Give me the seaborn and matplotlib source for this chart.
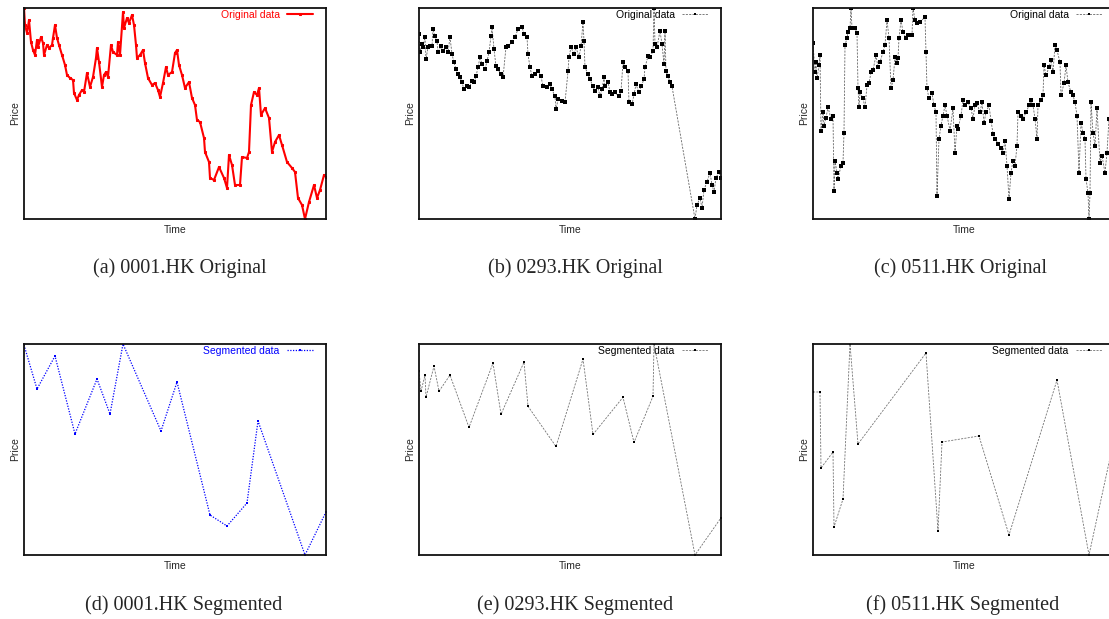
import matplotlib
matplotlib.use("Agg")
import matplotlib.pyplot as plt
import seaborn as sns

# prices (no ticks in the source, so arbitrary units)
# time = trading-step index, price = level above the panel minimum

# (a) 0001.HK original
a_time = [0, 1, 3, 4, 5, 7, 9, 11, 13, 14,
          17, 19, 20, 23, 25, 28, 29, 31, 33, 35,
          38, 41, 43, 46, 49, 50, 53, 55, 58, 60,
          63, 66, 69, 72, 73, 75, 78, 80, 82, 84,
          87, 89, 93, 94, 96, 99, 100, 103, 105, 108,
          110, 112, 113, 116, 119, 121, 124, 128, 131, 134,
          136, 139, 142, 144, 148, 151, 153, 155, 158, 161,
          165, 168, 171, 173, 176, 180, 181, 185, 186, 190,
          195, 200, 203, 205, 208, 211, 216, 218, 223, 225,
          227, 230, 233, 235, 237, 241, 245, 248, 251, 255,
          258, 263, 268, 271, 274, 278, 281, 285, 290, 293,
          296, 300, 302]
a_price = [211, 194, 186, 192, 199, 177, 169, 164, 179, 172,
           182, 176, 164, 174, 171, 174, 181, 194, 181, 174,
           164, 154, 144, 141, 139, 126, 119, 124, 129, 127,
           146, 132, 142, 161, 171, 157, 132, 144, 147, 142,
           174, 167, 164, 177, 164, 207, 191, 201, 196, 204,
           194, 174, 161, 164, 169, 156, 141, 134, 136, 129,
           122, 136, 152, 144, 147, 166, 169, 154, 144, 131,
           137, 121, 114, 99, 97, 81, 67, 57, 41, 39,
           52, 41, 31, 64, 54, 34, 34, 62, 61, 67,
           114, 127, 124, 131, 104, 111, 101, 67, 77, 84,
           74, 57, 51, 47, 21, 14, 0, 17, 34, 21,
           29, 44, 42]

# (b) 0293.HK original
b_time = [0, 1, 3, 4, 6, 7, 9, 11, 13, 14,
          16, 18, 19, 22, 24, 27, 29, 31, 33, 35,
          37, 39, 41, 43, 45, 48, 50, 53, 55, 57,
          59, 61, 63, 66, 68, 70, 72, 73, 75, 77,
          79, 82, 84, 87, 89, 93, 96, 99, 103, 105,
          108, 109, 111, 113, 116, 119, 122, 124, 128, 131,
          133, 136, 137, 139, 143, 146, 149, 150, 152, 155,
          157, 160, 162, 164, 165, 166, 169, 171, 174, 176,
          179, 181, 183, 185, 186, 189, 191, 193, 196, 200,
          202, 204, 206, 209, 210, 213, 215, 217, 220, 222,
          225, 226, 229, 231, 234, 235, 236, 238, 241, 243,
          245, 246, 247, 249, 251, 253, 276, 278, 281, 283,
          285, 288, 291, 293, 295, 297, 300, 302]
b_price = [184, 166, 174, 171, 181, 159, 171, 172, 172, 189,
           182, 177, 166, 172, 167, 171, 166, 181, 164, 156,
           149, 144, 141, 136, 129, 132, 131, 137, 136, 142,
           151, 161, 154, 149, 157, 166, 182, 191, 169, 152,
           149, 144, 141, 171, 172, 176, 181, 189, 191, 184,
           181, 164, 151, 142, 144, 147, 142, 132, 131, 134,
           129, 122, 109, 119, 117, 116, 147, 161, 171, 164,
           171, 161, 172, 196, 177, 151, 144, 139, 132, 127,
           131, 122, 129, 141, 132, 136, 126, 124, 126, 122,
           127, 156, 151, 147, 116, 114, 124, 134, 126, 132,
           139, 151, 162, 161, 167, 210, 174, 171, 187, 174,
           154, 187, 147, 142, 136, 132, 0, 14, 21, 11,
           29, 37, 46, 34, 27, 41, 47, 41]

# (c) 0511.HK original
c_time = [0, 2, 3, 4, 6, 7, 8, 10, 11, 13,
          15, 18, 20, 21, 22, 24, 25, 28, 30, 31,
          32, 34, 35, 37, 38, 39, 42, 44, 45, 46,
          47, 50, 52, 54, 56, 58, 60, 63, 65, 67,
          70, 72, 74, 76, 78, 80, 82, 84, 85, 86,
          88, 90, 93, 95, 99, 100, 102, 104, 107, 112,
          113, 114, 116, 119, 121, 123, 124, 126, 128, 130,
          132, 134, 137, 140, 142, 144, 145, 148, 150, 152,
          155, 158, 160, 162, 164, 167, 169, 171, 173, 176,
          178, 180, 182, 185, 188, 190, 192, 194, 196, 198,
          200, 202, 204, 205, 208, 210, 213, 216, 218, 220,
          222, 224, 225, 228, 230, 231, 233, 236, 238, 240,
          242, 244, 247, 248, 251, 253, 255, 258, 260, 262,
          264, 266, 268, 270, 272, 273, 275, 276, 277, 278,
          280, 282, 284, 287, 289, 292, 294, 296, 300, 302]
c_price = [175, 146, 156, 140, 153, 163, 88, 106, 93, 101,
           111, 100, 103, 28, 58, 46, 40, 53, 56, 86,
           173, 180, 186, 190, 210, 190, 190, 185, 130, 111,
           126, 120, 111, 133, 135, 146, 148, 163, 151, 156,
           166, 173, 198, 180, 130, 138, 161, 155, 160, 180,
           198, 186, 180, 183, 183, 210, 198, 195, 196, 201,
           166, 130, 120, 125, 113, 106, 23, 80, 93, 103,
           113, 103, 88, 110, 66, 93, 90, 103, 118, 113,
           116, 110, 100, 113, 115, 106, 116, 96, 106, 113,
           98, 85, 80, 75, 71, 66, 78, 53, 20, 46,
           58, 53, 73, 106, 103, 100, 106, 113, 118, 113,
           100, 80, 113, 118, 123, 153, 143, 151, 158, 146,
           173, 168, 156, 123, 135, 153, 136, 126, 123, 116,
           103, 46, 96, 86, 80, 40, 26, 0, 26, 116,
           86, 73, 110, 56, 63, 46, 66, 100, 93, 98]

# segmented versions (turning points)
d_time = [0, 13, 31, 51, 73, 86, 99, 137, 153, 186, 203, 223, 234, 281, 302]
d_price = [210, 166, 199, 121, 176, 141, 211, 124, 173, 40, 29, 52, 134, 0, 43]

e_time = [0, 2, 6, 7, 15, 20, 31, 50, 74, 82, 105,
          109, 137, 164, 174, 204, 215, 234, 235, 276, 302]
e_price = [183, 163, 179, 157, 188, 163, 179, 127, 191, 140, 192,
           148, 108, 195, 120, 157, 112, 158, 210, 0, 37]

f_time = [0, 7, 8, 20, 21, 30, 37, 45, 113, 125, 129, 166, 196, 244, 276, 302]
f_price = [163, 163, 87, 103, 28, 56, 211, 111, 202, 24, 113, 119, 20, 175, 0, 120]

captions = ["(a) 0001.HK Original", "(b) 0293.HK Original", "(c) 0511.HK Original",
            "(d) 0001.HK Segmented", "(e) 0293.HK Segmented", "(f) 0511.HK Segmented"]

sns.set_style("white")
plt.rcParams['font.family'] = ['Liberation Sans', 'DejaVu Sans']

W, H = 1109, 619
fig = plt.figure(figsize=(W / 100, H / 100), dpi=100)


def box(left, top, w=302, h=211):
    return [left / W, 1 - (top + h) / H, w / W, h / H]


red = dict(color='red', lw=1.5, linestyle='-', marker='s', ms=1.6, mec='red')
dense = dict(color='0.4', lw=0.6, linestyle=(0, (2.5, 1.5)), marker='s', ms=2.4,
             mfc='black', mec='black', mew=0)
black = dict(color='0.45', lw=0.6, linestyle=(0, (2.5, 1.5)), marker='s', ms=1.8,
             mfc='black', mec='black', mew=0)
blue = dict(color='blue', lw=0.9, linestyle=(0, (1, 1.2)), marker='s', ms=2,
            mfc='blue', mec='blue', mew=0)

panels = [
    (box(24, 8), a_time, a_price, 'Original data', red, 'red'),
    (box(419, 8), b_time, b_price, 'Original data', dense, 'black'),
    (box(813, 8), c_time, c_price, 'Original data', dense, 'black'),
    (box(24, 344), d_time, d_price, 'Segmented data', blue, 'blue'),
    (box(419, 344), e_time, e_price, 'Segmented data', black, 'black'),
    (box(813, 344), f_time, f_price, 'Segmented data', black, 'black'),
]

for rect, t, p, lab, style, tcol in panels:
    ax = fig.add_axes(rect)
    sns.lineplot(x=t, y=p, ax=ax, sort=False, estimator=None, label=lab, **style)
    ax.set_xlim(min(t), max(t))
    ax.set_ylim(min(p), max(p))
    ax.set_xticks([])
    ax.set_yticks([])
    for s in ax.spines.values():
        s.set_color('#111111')
        s.set_linewidth(1.3)
    ax.set_xlabel('Time', fontsize=7.5, labelpad=4)
    ax.set_ylabel('Price', fontsize=7.5, labelpad=3)
    leg = ax.legend(loc='upper right', bbox_to_anchor=(0.957, 0.99), frameon=False,
                    markerfirst=False, fontsize=7.5, handlelength=2.5, handletextpad=0.7,
                    borderpad=0, borderaxespad=0, numpoints=1, labelcolor=tcol)
    for h in leg.legend_handles:
        h.set_markersize(1.6)

cap_x = [180, 575, 961, 184, 575, 963]
cap_y = [268, 268, 268, 605, 605, 605]
for cx, cy, txt in zip(cap_x, cap_y, captions):
    fig.text(cx / W, 1 - cy / H, txt, ha='center', va='center',
             family='Liberation Serif', fontsize=14.5)

fig.savefig('out.png', dpi=100)
